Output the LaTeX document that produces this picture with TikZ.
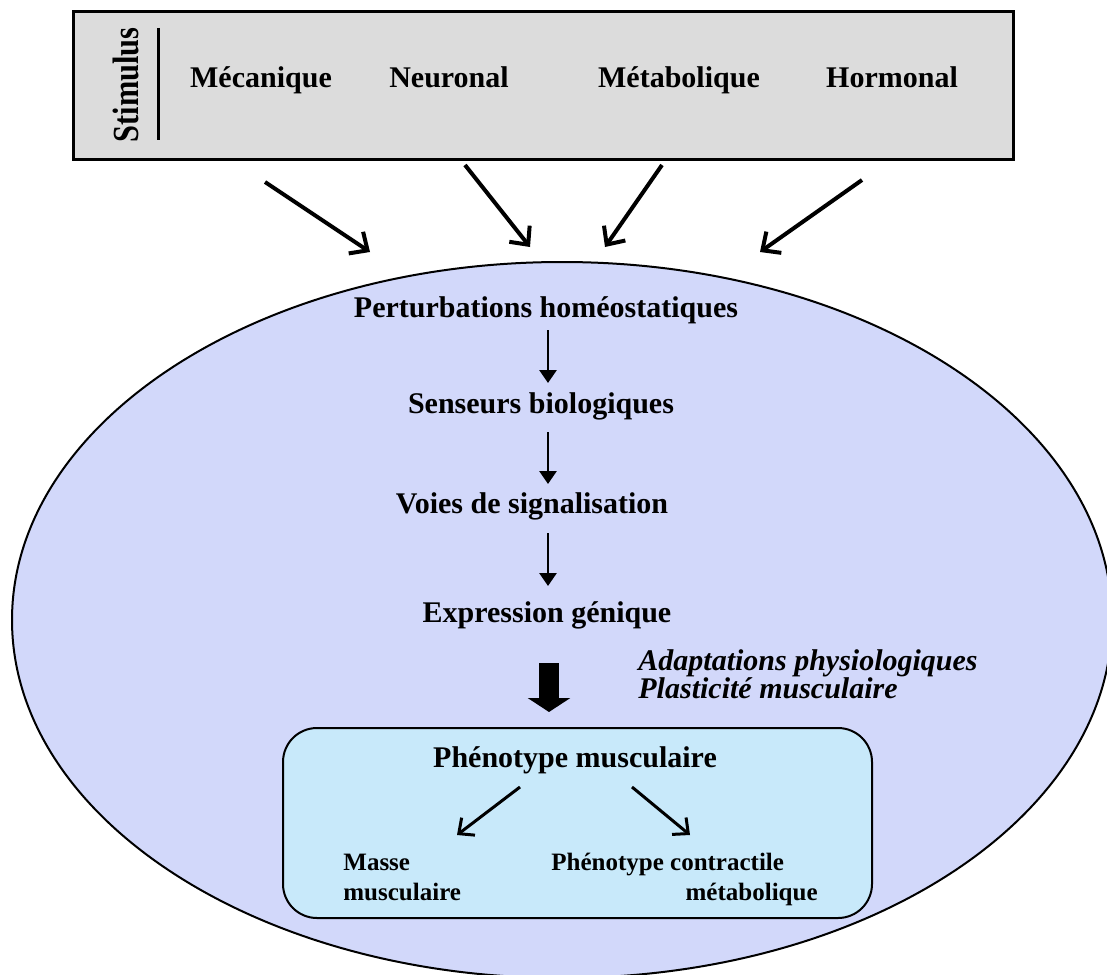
\documentclass[tikz,border=0pt]{standalone}
\usepackage{fontspec}
\setmainfont{Liberation Serif}
\usetikzlibrary{arrows.meta,shapes.geometric}
\definecolor{stimgray}{HTML}{DCDCDC}
\definecolor{cellblue}{HTML}{D2D8FA}
\definecolor{phenoblue}{HTML}{C8E9FA}
\begin{document}
\begin{tikzpicture}[x=0.5pt,y=-0.5pt,
  big/.style={font=\fontsize{15}{18}\selectfont\bfseries, inner sep=0pt, anchor=base},
  bigit/.style={font=\fontsize{15}{18}\selectfont\bfseries\itshape, inner sep=0pt, anchor=base west},
  small/.style={font=\fontsize{12.5}{15}\selectfont\bfseries, inner sep=0pt},
  stimbox/.style={draw, line width=1.5pt, fill=stimgray, inner sep=0pt},
  cellshape/.style={ellipse, draw, line width=1pt, fill=cellblue, inner sep=0pt},
  phenobox/.style={draw, line width=1pt, fill=phenoblue, rounded corners=17pt, inner sep=0pt},
  inarrow/.style={line width=2pt, -{Straight Barb[length=7pt,width=13pt]}},
  steparrow/.style={line width=1.4pt, -{Triangle[length=6.5pt,width=8.5pt]}},
  boxarrow/.style={line width=1.5pt, -{Straight Barb[length=6pt,width=11pt]}},
  fatarrow/.style={line width=10pt, -{Triangle[length=7pt,width=21pt]}}
]
\useasboundingbox (0,0) rectangle (1107,974);
\clip (0,0) rectangle (1107,974);

% cell ellipse
\node (cell) [cellshape, minimum width=550pt, minimum height=358pt] at (562,620) {};

% stimulus box
\node (stim) [stimbox, minimum width=470pt, minimum height=73.5pt] at (543,85.5) {};
\node (stimlabel) [font=\fontsize{16}{18}\selectfont\bfseries, inner sep=0pt, rotate=90, yscale=1.15, xscale=0.95] at (126,85) {Stimulus};
\coordinate (bartop) at (158,28);
\coordinate (barbot) at (158,140);
\draw[line width=1.5pt] (bartop) -- (barbot);
\node (meca) [big] at (261,88) {Mécanique};
\node (neur) [big] at (449,88) {Neuronal};
\node (meta) [big] at (679,88) {Métabolique};
\node (horm) [big] at (892,88) {Hormonal};

% incoming arrows
\coordinate (t1s) at (265,182); \coordinate (t1e) at (370,252);
\coordinate (t2s) at (465,165); \coordinate (t2e) at (530,247);
\coordinate (t3s) at (662,165); \coordinate (t3e) at (605,247);
\coordinate (t4s) at (862,180); \coordinate (t4e) at (760,252);
\draw[inarrow] (t1s) -- (t1e);
\draw[inarrow] (t2s) -- (t2e);
\draw[inarrow] (t3s) -- (t3e);
\draw[inarrow] (t4s) -- (t4e);

% cascade
\node (pert) [big] at (546,317) {Perturbations homéostatiques};
\node (sens) [big] at (541,413) {Senseurs biologiques};
\node (voie) [big] at (532,513) {Voies de signalisation};
\node (expr) [big] at (547,622) {Expression génique};
\coordinate (a1s) at (548,330); \coordinate (a1e) at (548,383);
\coordinate (a2s) at (548,432); \coordinate (a2e) at (548,484);
\coordinate (a3s) at (548,533); \coordinate (a3e) at (548,586);
\draw[steparrow] (a1s) -- (a1e);
\draw[steparrow] (a2s) -- (a2e);
\draw[steparrow] (a3s) -- (a3e);

\coordinate (fs) at (549,663); \coordinate (fe) at (549,712);
\draw[fatarrow] (fs) -- (fe);
\node (adapt) [bigit] at (638,670) {Adaptations physiologiques};
\node (plast) [bigit] at (638,698) {Plasticité musculaire};

% phenotype box
\node (pheno) [phenobox, minimum width=294.5pt, minimum height=95pt] at (577.5,823) {};
\node (phtitle) [big] at (575,767) {Phénotype musculaire};
\node (masse) [small, anchor=base west] at (343,870) {Masse};
\node (masse2) [small, anchor=base west] at (343,900) {musculaire};
\node (contr) [small, anchor=base west] at (551,870) {Phénotype contractile};
\node (contr2) [small, anchor=base east] at (818,900) {métabolique};
\coordinate (b1s) at (520,787); \coordinate (b1e) at (457,835);
\coordinate (b2s) at (632,787); \coordinate (b2e) at (690,835);
\draw[boxarrow] (b1s) -- (b1e);
\draw[boxarrow] (b2s) -- (b2e);
\end{tikzpicture}
\end{document}
